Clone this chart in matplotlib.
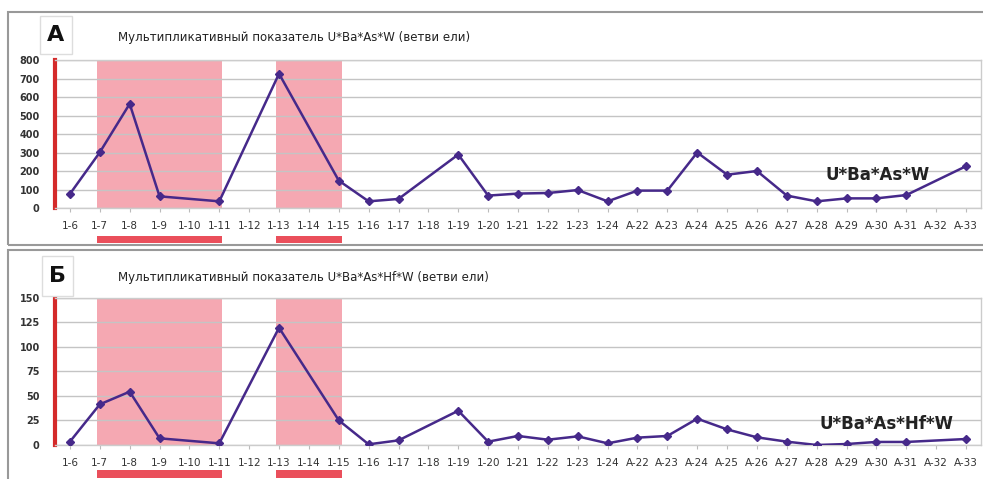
import matplotlib.pyplot as plt
from matplotlib.patches import Rectangle
import matplotlib.transforms as mtransforms
import numpy as np

# Data
categories = ['1-6', '1-7', '1-8', '1-9', '1-10', '1-11', '1-12', '1-13', '1-14', '1-15',
              '1-16', '1-17', '1-18', '1-19', '1-20', '1-21', '1-22', '1-23', '1-24',
              'A-22', 'A-23', 'A-24', 'A-25', 'A-26', 'A-27', 'A-28', 'A-29', 'A-30',
              'A-31', 'A-32', 'A-33']
values_a = [76, 301, 563, 63, None, 36, None, 726, None, 148,
            36, 49, None, 289, 67, 78, 81, 97, 36,
            94, 94, 300, 180, 200, 67, 36, 52, 52,
            70, None, 226]
values_b = [3.4, 41.4, 54.3, 6.8, None, 1.7, None, 119.4, None, 25.1,
            0.7, 4.7, None, 34.9, 3.4, 9.2, 5.4, 8.8, 1.7,
            7.5, 9.2, 26.8, 15.9, 7.8, 3.4, 0.0, 1.0, 3.1,
            3.1, None, 6.1]
# highlighted category ranges (first, last)
highlight = [('1-7', '1-11'), ('1-13', '1-15')]

titles = ['Мультипликативный показатель U*Ba*As*W (ветви ели)',
          'Мультипликативный показатель U*Ba*As*Hf*W (ветви ели)']
letters = ['А', 'Б']
labels = ['U*Ba*As*W', 'U*Ba*As*Hf*W']

W, H = 983, 479
fig = plt.figure(figsize=(W / 100, H / 100), dpi=100)
fig.patch.set_facecolor('white')


def fx(px):
    return px / W


def fy(py):
    return 1 - py / H


# panel frames
fig.patches.append(Rectangle((fx(8), fy(245)), fx(990 - 8), (245 - 12) / H,
                             transform=fig.transFigure, fill=False,
                             edgecolor='#999999', lw=1.5))
fig.patches.append(Rectangle((fx(8), fy(490)), fx(990 - 8), (490 - 250) / H,
                             transform=fig.transFigure, fill=False,
                             edgecolor='#999999', lw=1.5))

x = np.arange(len(categories))
pink = '#F5A8B2'
red_bar = '#EA4F5B'
line_c = '#46298A'

setups = [
    dict(vals=values_a, top=60, bottom=208, ymax=800, step=100,
         box=(40, 16, 72, 54), title_y=37, lab=(25.3, 178),
         bar=(236, 243)),
    dict(vals=values_b, top=297.7, bottom=445, ymax=150, step=25,
         box=(42, 256, 73, 296), title_y=277, lab=(25.1, 21),
         bar=(470, 478)),
]

for k, s in enumerate(setups):
    ax = fig.add_axes([fx(55), fy(s['bottom']), fx(981 - 55),
                       (s['bottom'] - s['top']) / H])
    ax.set_xlim(-0.5, len(categories) - 0.5)
    ax.set_ylim(0, s['ymax'])
    ax.set_yticks(np.arange(0, s['ymax'] + 1, s['step']))
    ax.yaxis.grid(True, color='#C4C4C4', lw=1)
    ax.set_axisbelow(True)

    trans = mtransforms.blended_transform_factory(ax.transData, ax.transAxes)
    h = s['bottom'] - s['top']
    for a, b in highlight:
        i0 = categories.index(a) - 0.1
        i1 = categories.index(b) + 0.1
        ax.axvspan(i0, i1, color=pink, lw=0, zorder=0.5)
        y0 = -(s['bar'][1] - s['bottom']) / h
        bh = (s['bar'][1] - s['bar'][0]) / h
        ax.add_patch(Rectangle((i0, y0), i1 - i0, bh, transform=trans,
                               color=red_bar, lw=0, clip_on=False))

    vals = np.array([np.nan if v is None else v for v in s['vals']], dtype=float)
    ok = ~np.isnan(vals)
    ax.plot(x[ok], vals[ok], color=line_c, lw=1.8, marker='D', markersize=4.5,
            zorder=3)

    ax.set_xticks(x)
    ax.set_xticklabels(categories, fontsize=7.5, color='#333333')
    ax.tick_params(axis='x', length=3, color='#BBBBBB', pad=6)
    ax.tick_params(axis='y', length=0, labelsize=7, labelcolor='#333333', pad=11)
    for lab in ax.get_yticklabels():
        lab.set_fontweight('bold')

    ax.spines['left'].set_color('#D42A2A')
    ax.spines['left'].set_linewidth(3)
    for sp in ['top', 'right', 'bottom']:
        ax.spines[sp].set_color('#CCCCCC')
        ax.spines[sp].set_linewidth(1)

    ax.text(s['lab'][0], s['lab'][1], labels[k], fontsize=12, fontweight='bold',
            color='#222222', va='center', ha='left', zorder=4)

    # letter box and title
    bx0, by0, bx1, by1 = s['box']
    fig.patches.append(Rectangle((fx(bx0), fy(by1)), fx(bx1 - bx0), (by1 - by0) / H,
                                 transform=fig.transFigure, facecolor='white',
                                 edgecolor='#DDDDDD', lw=1))
    fig.text(fx((bx0 + bx1) / 2), fy((by0 + by1) / 2), letters[k], fontsize=16,
             fontweight='bold', ha='center', va='center', color='#111111')
    fig.text(fx(118), fy(s['title_y']), titles[k], fontsize=8.5, ha='left',
             va='center', color='#222222')

fig.savefig('out.png', dpi=100)
